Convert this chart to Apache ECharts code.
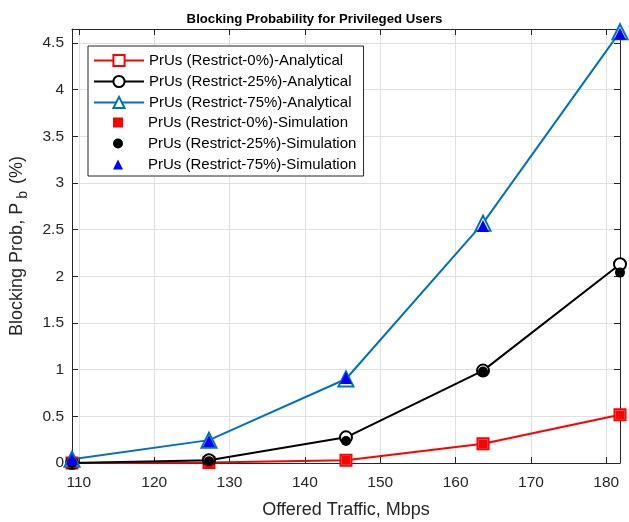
<!DOCTYPE html>
<html>
<head>
<meta charset="utf-8">
<script src="https://cdn.jsdelivr.net/npm/echarts@6/dist/echarts.min.js"></script>
<style>
html,body{margin:0;padding:0;background:#fff;}
#chart{width:629px;height:522px;}
</style>
</head>
<body>
<div id="chart"></div>
<script>
// ---- data ----
const xValues = [109.09, 127.27, 145.45, 163.64, 181.82];
const red0Analytical = [0, 0.005, 0.03, 0.207, 0.518];
const black25Analytical = [0, 0.03, 0.275, 0.99, 2.13];
const blue75Analytical = [0.04, 0.245, 0.9, 2.57, 4.62];
const red0Simulation = [0, 0, 0.03, 0.205, 0.515];
const black25Simulation = [0, 0.02, 0.235, 0.98, 2.04];
const blue75Simulation = [0.04, 0.235, 0.91, 2.54, 4.6];
const seriesNames = [
  'PrUs (Restrict-0%)-Analytical',
  'PrUs (Restrict-25%)-Analytical',
  'PrUs (Restrict-75%)-Analytical',
  'PrUs (Restrict-0%)-Simulation',
  'PrUs (Restrict-25%)-Simulation',
  'PrUs (Restrict-75%)-Simulation'
];
const xMin = 109.09, xMax = 181.82;
const yMin = 0, yMax = 4.65, yInterval = 0.5;

const pairs = (ys) => xValues.map((x, i) => [x, ys[i]]);
const FONT = 'Liberation Sans, Arial, Helvetica, sans-serif';
const AX = '#262626';

const chart = echarts.init(document.getElementById('chart'), null, {renderer: 'canvas'});

const lineSeries = (name, ys, color, symbol, size) => ({
  name, type: 'line', data: pairs(ys), clip: false,
  symbol, symbolSize: size, showAllSymbol: true,
  lineStyle: {color, width: 2},
  itemStyle: {color, borderColor: color, borderWidth: 2},
  emphasis: {disabled: true}, z: 2
});
const scatterSeries = (name, ys, color, symbol, size) => ({
  name, type: 'scatter', data: pairs(ys), clip: false,
  symbol, symbolSize: size,
  itemStyle: {color, opacity: 1},
  emphasis: {disabled: true}, z: 3
});

const option = {
  animation: false,
  backgroundColor: '#fff',
  textStyle: {fontFamily: FONT},
  title: {
    text: 'Blocking Probability for Privileged Users',
    left: 'center', top: 8,
    textStyle: {fontFamily: FONT, fontSize: 13.2, fontWeight: 'bold', color: '#000'}
  },
  grid: {left: 72, right: 9, top: 29, bottom: 59, containLabel: false, outerBoundsMode: 'none'},
  legend: [
    {
      data: seriesNames.slice(0, 3),
      orient: 'vertical', left: 88, top: 46,
      padding: [7, 12, 66, 5],
      itemWidth: 50, itemHeight: 14, itemGap: 6,
      backgroundColor: '#fff', borderColor: AX, borderWidth: 1, borderRadius: 0,
      selectedMode: false, z: 3,
      textStyle: {fontFamily: FONT, fontSize: 15, color: '#000'}
    },
    {
      data: seriesNames.slice(3),
      orient: 'vertical', left: 113, top: 115,
      padding: 0,
      itemWidth: 10, itemHeight: 10, itemGap: 6,
      selectedMode: false, z: 6,
      itemStyle: {opacity: 1},
      textStyle: {fontFamily: FONT, fontSize: 15, color: '#000', lineHeight: 15, padding: [0, 0, 0, 20]}
    }
  ],
  xAxis: [
    {
      type: 'value', min: xMin, max: xMax, splitNumber: 7,
      name: 'Offered Traffic, Mbps', nameLocation: 'middle', nameGap: 38,
      nameTextStyle: {fontFamily: FONT, fontSize: 18, color: AX},
      axisLine: {show: true, onZero: false, lineStyle: {color: AX, width: 1}},
      axisTick: {show: true, inside: true, length: 6, lineStyle: {color: AX}},
      axisLabel: {fontFamily: FONT, fontSize: 15.5, color: AX, margin: 12, showMinLabel: false, showMaxLabel: false},
      splitLine: {show: true, lineStyle: {color: '#e0e0e0', width: 1}}
    },
    {
      type: 'value', min: xMin, max: xMax, splitNumber: 7, position: 'top',
      axisLine: {show: true, onZero: false, lineStyle: {color: AX, width: 1}},
      axisTick: {show: true, inside: true, length: 6, lineStyle: {color: AX}},
      axisLabel: {show: false},
      splitLine: {show: false}
    }
  ],
  yAxis: [
    {
      type: 'value', min: yMin, max: yMax, interval: yInterval,
      name: '{n|Blocking Prob, P}{s|b}{n| (%)}', nameLocation: 'middle', nameGap: 46,
      nameTextStyle: {
        fontFamily: FONT, fontSize: 18, color: AX,
        rich: {
          n: {fontFamily: FONT, fontSize: 18, color: AX, verticalAlign: 'top', lineHeight: 18},
          s: {fontFamily: FONT, fontSize: 14, color: AX, verticalAlign: 'top', lineHeight: 14, padding: [8, 2, 0, 4]}
        }
      },
      axisLine: {show: true, onZero: false, lineStyle: {color: AX, width: 1}},
      axisTick: {show: true, inside: true, length: 6, lineStyle: {color: AX}},
      axisLabel: {fontFamily: FONT, fontSize: 15.5, color: AX, margin: 8, showMaxLabel: false},
      splitLine: {show: true, lineStyle: {color: '#e0e0e0', width: 1}}
    },
    {
      type: 'value', min: yMin, max: yMax, interval: yInterval, position: 'right',
      axisLine: {show: true, onZero: false, lineStyle: {color: AX, width: 1}},
      axisTick: {show: true, inside: true, length: 6, lineStyle: {color: AX}},
      axisLabel: {show: false},
      splitLine: {show: false}
    }
  ],
  series: [
    lineSeries(seriesNames[0], red0Analytical, '#ff0000', 'emptyRect', 11),
    lineSeries(seriesNames[1], black25Analytical, '#000000', 'emptyCircle', 12),
    lineSeries(seriesNames[2], blue75Analytical, '#0072BD', 'emptyTriangle', 15),
    scatterSeries(seriesNames[3], red0Simulation, '#ff0000', 'rect', 9),
    scatterSeries(seriesNames[4], black25Simulation, '#000000', 'circle', 10),
    scatterSeries(seriesNames[5], blue75Simulation, '#0000ff', 'triangle', 12)
  ]
};
chart.setOption(option);
</script>
</body>
</html>
